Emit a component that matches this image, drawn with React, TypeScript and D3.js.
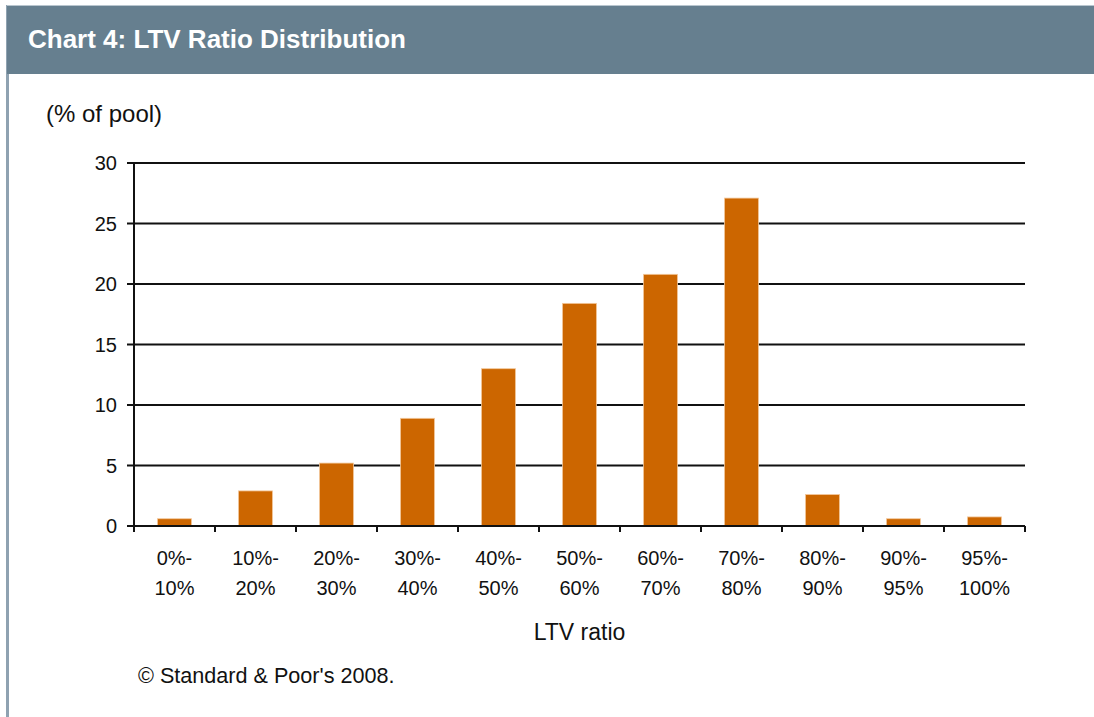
import React from 'react';
import * as d3 from 'd3';

const categories = [
  ['0%-', '10%'],
  ['10%-', '20%'],
  ['20%-', '30%'],
  ['30%-', '40%'],
  ['40%-', '50%'],
  ['50%-', '60%'],
  ['60%-', '70%'],
  ['70%-', '80%'],
  ['80%-', '90%'],
  ['90%-', '95%'],
  ['95%-', '100%'],
];
const values = [0.6, 2.9, 5.2, 8.9, 13.0, 18.4, 20.8, 27.1, 2.6, 0.6, 0.75];
const yTicks = [0, 5, 10, 15, 20, 25, 30];

const W = 1094;
const H = 717;
const left = 134;
const right = 1025;
const top = 163;
const bottom = 526;
const font = '"Liberation Sans", Arial, sans-serif';

export default function App() {
  const keys = categories.map((c) => c.join(''));
  const x = d3.scaleBand<string>().domain(keys).range([left, right]).padding(0);
  const y = d3.scaleLinear().domain([0, 30]).range([bottom, top]);
  const barW = x.bandwidth() * 0.42;

  return (
    <svg
      width={W}
      height={H}
      style={{ position: 'absolute', left: 0, top: 0, background: '#fff' }}
    >
      <rect x={0} y={0} width={W} height={H} fill="#fff" />
      {/* panel frame */}
      <rect x={6} y={5} width={3} height={H - 5} fill="#8fa2b1" />
      <rect x={7} y={5} width={W - 7} height={69} fill="#667f8f" />
      <line x1={7} x2={W} y1={5.5} y2={5.5} stroke="#b9c6cf" />
      <text
        x={28}
        y={48}
        fill="#fff"
        fontFamily={font}
        fontWeight="bold"
        fontSize={26}
      >
        Chart 4: LTV Ratio Distribution
      </text>

      <text x={46} y={122} fontFamily={font} fontSize={24} fill="#111">
        (% of pool)
      </text>

      {/* gridlines + y ticks */}
      {yTicks.map((t) => (
        <g key={t}>
          <line x1={127} x2={right} y1={y(t)} y2={y(t)} stroke="#111" strokeWidth={2} />
          <text
            x={117}
            y={y(t)}
            dy="0.35em"
            textAnchor="end"
            fontFamily={font}
            fontSize={20}
            fill="#111"
          >
            {t}
          </text>
        </g>
      ))}

      {/* bars */}
      {values.map((v, i) => (
        <rect
          key={i}
          x={x(keys[i])! + (x.bandwidth() - barW) / 2}
          y={y(v)}
          width={barW}
          height={y(0) - y(v)}
          fill="#cc6600"
          stroke="#f3c89c"
          strokeWidth={0.8}
        />
      ))}

      {/* axes */}
      <line x1={left} x2={left} y1={top} y2={bottom + 6} stroke="#111" strokeWidth={2} />
      <line x1={left - 7} x2={right} y1={bottom} y2={bottom} stroke="#111" strokeWidth={2} />
      {keys.map((k) => (
        <line
          key={k}
          x1={x(k)! + x.bandwidth()}
          x2={x(k)! + x.bandwidth()}
          y1={bottom}
          y2={bottom + 6}
          stroke="#111"
          strokeWidth={2}
        />
      ))}

      {categories.map((c, i) => (
        <text key={i} textAnchor="middle" fontFamily={font} fontSize={20} fill="#111">
          <tspan x={x(keys[i])! + x.bandwidth() / 2} y={565}>
            {c[0]}
          </tspan>
          <tspan x={x(keys[i])! + x.bandwidth() / 2} y={595}>
            {c[1]}
          </tspan>
        </text>
      ))}

      <text
        x={(left + right) / 2}
        y={640}
        textAnchor="middle"
        fontFamily={font}
        fontSize={23}
        fill="#111"
      >
        LTV ratio
      </text>

      <text x={138} y={683} fontFamily={font} fontSize={21.6} fill="#111">
        © Standard &amp; Poor's 2008.
      </text>
    </svg>
  );
}
